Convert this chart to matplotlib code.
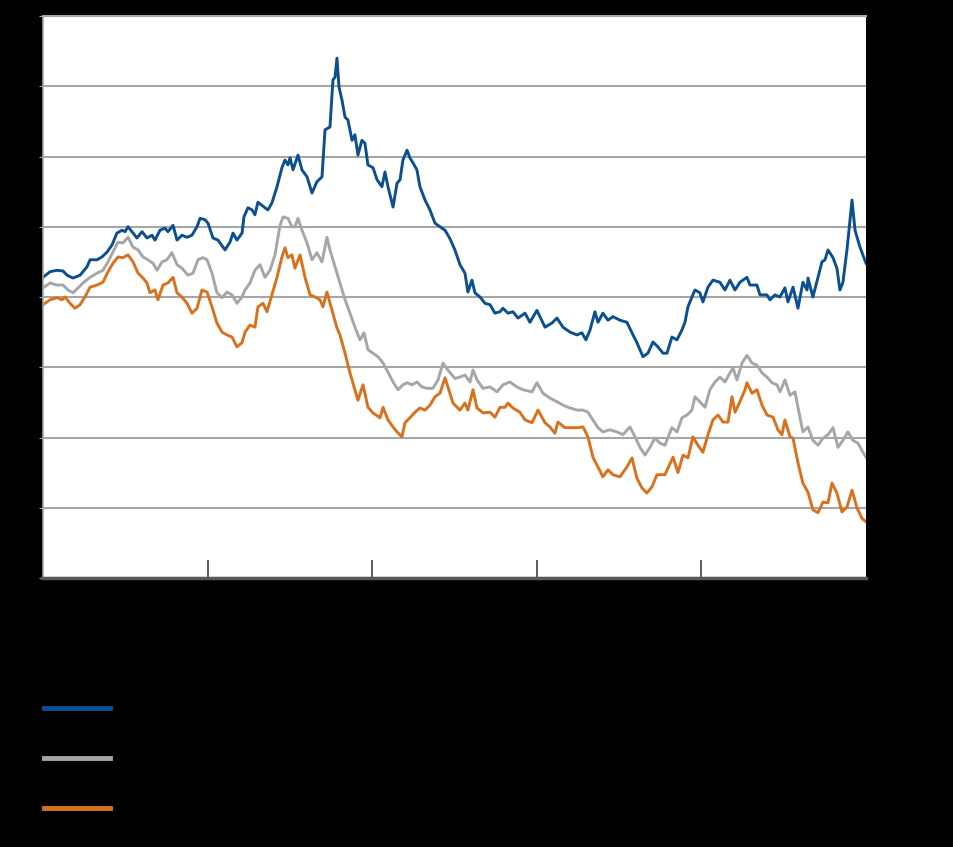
import matplotlib
matplotlib.use("Agg")
import matplotlib.pyplot as plt

# months since start of series (5 years shown), index level
blue_m = [0, 0.51, 1.02, 1.46, 1.75, 2.19, 2.70, 3.21, 3.43, 3.94, 4.30, 4.67, 5.03, 5.39, 5.76, 5.98,
          6.20, 6.56, 6.85, 7.22, 7.58, 7.95, 8.16, 8.53, 8.89, 9.11, 9.48, 9.77, 10.13, 10.50, 10.86,
          11.23, 11.45, 11.81, 12.03, 12.39, 12.76, 13.27, 13.63, 13.85, 14.14, 14.51, 14.65, 14.94,
          15.24, 15.45, 15.67, 16.18, 16.40, 16.69, 17.06, 17.42, 17.64, 17.86, 18.01, 18.23, 18.59,
          18.88, 19.25, 19.61, 19.97, 20.34, 20.56, 20.92, 21.14, 21.29, 21.43, 21.58, 21.80, 22.02,
          22.23, 22.53, 22.74, 22.96, 23.25, 23.47, 23.69, 24.06, 24.35, 24.71, 24.93, 25.15, 25.52,
          25.81, 26.03, 26.24, 26.54, 26.75, 26.97, 27.26, 27.48, 27.85, 28.21, 28.58, 28.94, 29.31,
          29.67, 30.03, 30.40, 30.76, 30.98, 31.27, 31.49, 31.86, 32.22, 32.59, 32.95, 33.32, 33.53,
          33.90, 34.26, 34.63, 35.14, 35.50, 36.01, 36.60, 37.11, 37.47, 37.91, 38.42, 38.93, 39.29,
          39.58, 39.88, 40.24, 40.46, 40.82, 41.19, 41.55, 42.06, 42.57, 42.94, 43.30, 43.74, 44.10,
          44.47, 44.83, 45.20, 45.49, 45.85, 46.22, 46.58, 46.80, 47.02, 47.31, 47.53, 47.89, 48.11,
          48.48, 48.84, 49.35, 49.72, 50.08, 50.45, 50.81, 51.32, 51.54, 52.05, 52.27, 52.78, 53.00,
          53.36, 53.73, 54.09, 54.31, 54.68, 55.04, 55.40, 55.70, 55.77, 56.13, 56.50, 56.79, 57.01,
          57.23, 57.59, 57.88, 58.10, 58.32, 58.61, 58.76, 58.98, 59.20, 59.56, 60.0]
blue_v = [102.8, 103.6, 103.8, 103.7, 103.1, 102.7, 103.1, 104.3, 105.3, 105.3, 105.7, 106.4, 107.4,
          109.1, 109.5, 109.3, 110.0, 109.1, 108.4, 109.3, 108.4, 108.8, 108.1, 109.5, 109.8, 109.3,
          110.2, 108.1, 108.8, 108.5, 108.8, 110.0, 111.2, 111.0, 110.5, 108.4, 108.1, 106.7, 107.8,
          109.1, 108.1, 109.1, 111.4, 112.7, 112.4, 111.7, 113.5, 112.7, 112.4, 113.4, 115.7, 118.4,
          119.5, 118.8, 119.8, 118.1, 120.2, 118.1, 117.1, 114.8, 116.4, 117.1, 123.8, 124.2, 130.9,
          131.3, 134.0, 129.9, 128.0, 125.6, 125.2, 122.3, 123.1, 120.2, 122.3, 121.9, 118.8, 118.4,
          116.7, 115.7, 117.8, 115.7, 112.8, 116.2, 116.7, 119.5, 120.9, 119.8, 119.1, 118.1, 115.7,
          113.8, 112.4, 110.5, 110.0, 109.5, 108.3, 106.7, 104.6, 103.4, 100.7, 102.4, 100.6, 100.0,
          99.1, 98.9, 97.7, 97.9, 98.4, 97.7, 97.9, 97.0, 97.7, 96.4, 98.1, 95.7, 96.3, 97.0, 95.7,
          95.0, 94.6, 94.9, 93.9, 95.3, 97.9, 96.4, 97.7, 96.7, 97.2, 96.7, 96.4, 94.9, 93.5, 91.5,
          92.0, 93.6, 92.9, 92.0, 92.0, 94.3, 93.9, 95.3, 96.4, 98.6, 100.0, 101.0, 100.6, 99.3,
          101.4, 102.4, 102.1, 101.0, 102.4, 101.0, 102.1, 102.8, 101.7, 101.7, 100.3, 100.3, 99.6,
          100.3, 100.0, 101.3, 99.3, 101.4, 98.4, 102.1, 101.0, 102.7, 100.0, 102.8, 105.0, 105.3,
          106.7, 105.6, 104.1, 101.0, 102.1, 106.7, 109.5, 113.8, 109.5, 107.1, 104.8]

gray_m = [0, 0.51, 1.02, 1.46, 1.82, 2.19, 2.55, 2.92, 3.43, 3.94, 4.37, 4.74, 5.10, 5.47, 5.83, 6.20,
          6.56, 6.93, 7.29, 7.65, 8.02, 8.31, 8.68, 9.04, 9.40, 9.77, 10.13, 10.57, 10.94, 11.30, 11.66,
          11.96, 12.32, 12.68, 13.05, 13.41, 13.78, 14.14, 14.51, 14.73, 15.09, 15.45, 15.82, 16.18,
          16.55, 16.91, 17.28, 17.50, 17.86, 18.15, 18.37, 18.59, 18.88, 19.25, 19.61, 19.97, 20.34,
          20.70, 20.92, 21.29, 21.65, 22.02, 22.38, 22.74, 23.11, 23.40, 23.69, 24.06, 24.42, 24.79,
          25.15, 25.52, 25.88, 26.24, 26.54, 26.90, 27.26, 27.63, 27.99, 28.43, 28.80, 29.16, 29.52,
          30.03, 30.40, 30.76, 31.13, 31.35, 31.64, 32.08, 32.59, 33.10, 33.53, 34.04, 34.55, 34.99,
          35.65, 36.01, 36.45, 36.96, 37.47, 37.91, 38.42, 38.93, 39.37, 39.73, 40.09, 40.46, 40.82,
          41.33, 41.84, 42.28, 42.79, 43.16, 43.52, 43.89, 44.25, 44.61, 44.98, 45.34, 45.85, 46.22,
          46.58, 46.95, 47.31, 47.53, 47.89, 48.26, 48.62, 48.99, 49.35, 49.72, 50.08, 50.30, 50.59,
          50.96, 51.32, 51.69, 52.05, 52.42, 52.78, 53.14, 53.51, 53.73, 54.09, 54.46, 54.82, 55.04,
          55.40, 55.77, 56.13, 56.50, 56.86, 57.23, 57.59, 57.96, 58.32, 58.68, 59.05, 59.41, 59.78, 60.0]
gray_v = [101.3, 102.0, 101.7, 101.7, 101.0, 100.6, 101.3, 102.0, 102.8, 103.4, 103.8, 105.0, 106.4,
          107.8, 107.7, 108.5, 107.1, 106.7, 105.7, 105.3, 104.8, 103.8, 105.0, 105.3, 106.3, 104.6,
          104.1, 103.1, 103.4, 105.3, 105.6, 105.3, 103.4, 100.6, 99.9, 100.7, 100.3, 99.1, 100.0,
          101.0, 102.0, 103.8, 104.6, 102.8, 103.8, 106.0, 110.2, 111.4, 111.2, 110.0, 110.0, 111.2,
          109.5, 107.7, 105.3, 106.3, 105.0, 108.5, 106.7, 104.3, 102.0, 99.6, 97.7, 95.7, 93.9, 94.9,
          92.5, 92.0, 91.5, 90.6, 89.3, 87.9, 86.8, 87.5, 87.8, 87.5, 87.9, 87.2, 87.0, 87.0, 88.2,
          90.6, 89.6, 88.4, 88.6, 88.9, 87.9, 89.6, 88.2, 87.0, 87.2, 86.5, 87.5, 87.9, 87.2, 86.8,
          86.5, 87.8, 86.3, 85.6, 85.1, 84.6, 84.2, 83.9, 83.9, 83.6, 82.5, 81.4, 80.8, 81.1, 80.8,
          80.4, 81.5, 80.1, 78.6, 77.5, 78.6, 79.9, 79.2, 78.9, 81.4, 80.8, 82.8, 83.2, 83.9, 85.8,
          85.1, 84.3, 86.8, 87.9, 88.6, 87.9, 89.2, 89.9, 88.2, 90.6, 91.7, 90.6, 90.3, 89.2, 88.6,
          87.8, 87.5, 86.5, 88.2, 86.0, 86.5, 84.3, 80.8, 81.5, 79.6, 78.9, 79.9, 80.4, 81.4, 78.6,
          79.6, 80.8, 79.6, 79.2, 77.9, 77.2]

orange_m = [0, 0.51, 1.02, 1.39, 1.60, 1.97, 2.33, 2.70, 3.06, 3.43, 3.94, 4.37, 4.74, 5.10, 5.47,
            5.83, 6.20, 6.56, 6.93, 7.29, 7.58, 7.80, 8.16, 8.38, 8.75, 9.11, 9.48, 9.77, 10.13, 10.50,
            10.86, 11.23, 11.59, 11.96, 12.32, 12.68, 13.05, 13.41, 13.78, 14.14, 14.51, 14.73, 15.09,
            15.45, 15.67, 16.04, 16.33, 16.69, 17.06, 17.42, 17.64, 17.86, 18.15, 18.37, 18.74, 19.10,
            19.47, 19.83, 20.19, 20.41, 20.70, 21.07, 21.43, 21.65, 22.02, 22.38, 22.74, 22.96, 23.33,
            23.69, 24.06, 24.57, 24.79, 25.15, 25.52, 25.81, 26.17, 26.39, 26.75, 27.12, 27.48, 27.85,
            28.21, 28.58, 28.94, 29.31, 29.52, 29.89, 30.40, 30.76, 30.98, 31.35, 31.64, 32.08, 32.59,
            32.95, 33.32, 33.68, 33.90, 34.26, 34.77, 35.14, 35.65, 36.09, 36.60, 36.96, 37.32, 37.54,
            38.05, 38.56, 39.00, 39.37, 39.73, 40.09, 40.46, 40.82, 41.19, 41.55, 42.06, 42.57, 42.94,
            43.30, 43.67, 44.03, 44.40, 44.76, 45.34, 45.93, 46.29, 46.66, 47.02, 47.38, 47.75, 48.11,
            48.48, 48.84, 49.21, 49.57, 49.94, 50.23, 50.45, 50.81, 51.18, 51.32, 51.69, 52.05, 52.42,
            52.78, 53.22, 53.58, 53.87, 54.09, 54.46, 54.68, 55.04, 55.40, 55.77, 56.13, 56.50, 56.86,
            57.23, 57.52, 57.88, 58.25, 58.61, 58.98, 59.34, 59.70, 60.0]
orange_v = [98.9, 99.6, 99.9, 99.6, 100.0, 99.1, 98.4, 98.9, 100.0, 101.4, 101.7, 102.1, 103.6, 104.8,
            105.7, 105.6, 106.0, 105.0, 103.4, 102.7, 102.0, 100.6, 101.0, 99.6, 101.7, 102.0, 102.8,
            100.6, 100.0, 99.1, 97.7, 98.4, 101.0, 100.7, 98.6, 96.3, 95.0, 94.6, 94.3, 92.9, 93.5,
            95.0, 96.0, 95.7, 98.6, 99.1, 97.9, 100.3, 102.8, 105.7, 107.0, 105.6, 106.0, 104.1, 106.0,
            102.8, 100.3, 100.0, 99.6, 98.6, 100.7, 98.1, 95.6, 94.6, 92.0, 89.2, 86.8, 85.3, 87.5,
            84.3, 83.5, 82.8, 84.3, 82.5, 81.5, 80.8, 80.1, 82.1, 82.8, 83.6, 84.2, 83.9, 84.6, 85.8,
            86.3, 88.5, 87.2, 84.9, 83.9, 84.9, 83.9, 86.8, 84.2, 83.5, 83.6, 82.9, 84.3, 84.3, 84.9,
            84.2, 83.6, 82.5, 82.1, 83.9, 82.1, 81.5, 80.6, 82.2, 81.4, 81.4, 81.4, 81.5, 80.1, 77.2,
            75.8, 74.4, 75.4, 74.7, 74.4, 75.8, 77.1, 74.2, 72.8, 72.1, 73.0, 74.7, 74.7, 77.2, 75.0,
            77.5, 77.1, 80.1, 78.9, 77.9, 80.4, 82.5, 83.2, 82.2, 82.2, 85.8, 83.6, 85.1, 86.8, 87.8,
            86.3, 86.8, 84.6, 83.2, 82.9, 81.1, 80.4, 82.5, 80.1, 79.9, 76.4, 73.5, 72.2, 69.7, 69.3,
            70.8, 70.7, 73.5, 72.1, 69.4, 70.1, 72.5, 70.0, 68.5, 68.0]

labels = ["Nominal effective exchange rate", "Real effective exchange rate (CPI)",
          "Real effective exchange rate (ULC)"]
years = ["2004", "2005", "2006", "2007", "2008"]
colors = ["#0b4f91", "#a6a6a6", "#d9711c"]

fig = plt.figure(figsize=(9.54, 8.47), dpi=100, facecolor="black")
ax = fig.add_axes([43/954, 1 - 578/847, 823/954, 562/847])
ax.set_facecolor("white")

series = [(blue_m, blue_v), (gray_m, gray_v), (orange_m, orange_v)]
for (m, v), c, lab in zip(series, colors, labels):
    ax.plot(m, v, color=c, lw=2.1, label=lab, solid_joinstyle="round")

ax.set_xlim(0, 60)
ax.set_ylim(60, 140)
ax.set_yticks(range(60, 141, 10))
ax.yaxis.grid(True, color="#a6a6a6", lw=1.5)
ax.set_axisbelow(True)

ax.set_xticks([12, 24, 36, 48])
ax.set_xticklabels([])
ax.set_xticks([6, 18, 30, 42, 54], minor=True)
ax.set_xticklabels(years, minor=True, color="black", fontsize=12)
ax.tick_params(axis="x", which="major", direction="in", length=13, width=1.2, color="#404040")
ax.tick_params(axis="x", which="minor", length=0, pad=8)
ax.tick_params(axis="y", direction="out", length=3, pad=2, color="#a6a6a6",
               labelcolor="black", labelsize=10)

ax.spines["right"].set_visible(False)
ax.spines["top"].set_color("#a6a6a6")
ax.spines["top"].set_linewidth(1.5)
ax.spines["left"].set_color("#a6a6a6")
ax.spines["left"].set_linewidth(1.2)
ax.spines["bottom"].set_color("#595959")
ax.spines["bottom"].set_linewidth(2.5)

leg = fig.legend(loc="upper left", bbox_to_anchor=(0.028, 1 - 682/847), frameon=False,
                 fontsize=14, handlelength=3.4, labelspacing=1.6, handletextpad=1.0)
for t in leg.get_texts():
    t.set_color("black")
for h in leg.get_lines():
    h.set_linewidth(3.5)

fig.savefig("out.png", dpi=100, facecolor="black")
